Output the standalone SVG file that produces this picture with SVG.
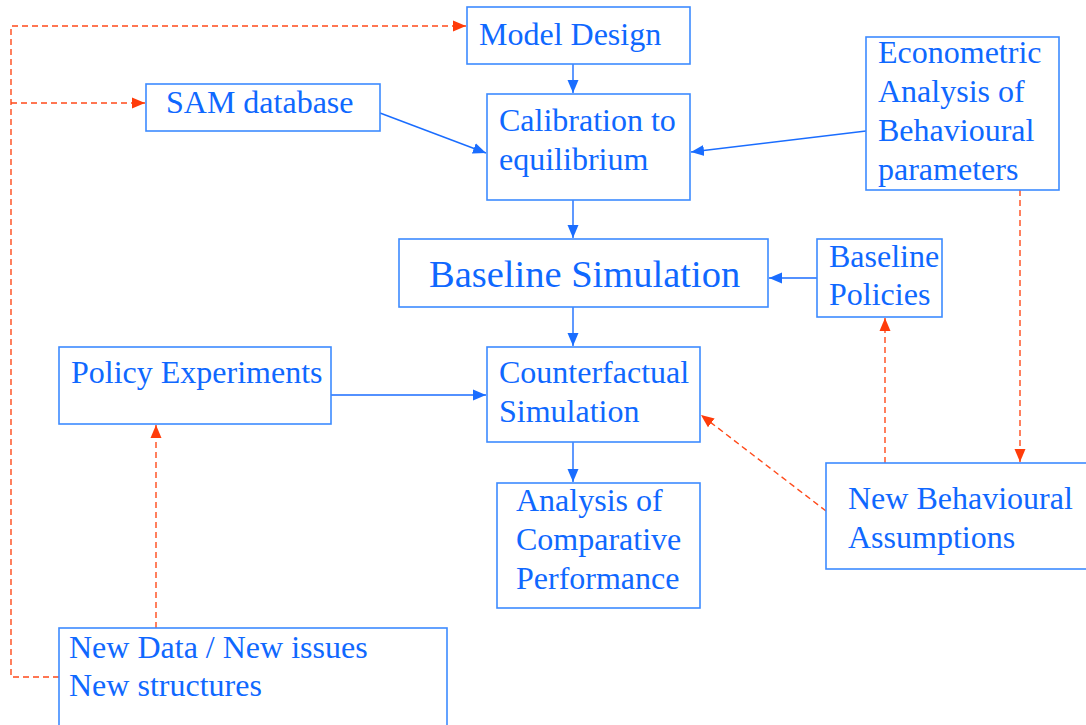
<svg xmlns="http://www.w3.org/2000/svg" width="1086" height="725" viewBox="0 0 1086 725">
<defs>
<style>
.box{fill:#fff;stroke:#3d8bff;stroke-width:1.6}
.t{font-family:"Liberation Serif","Times New Roman",serif;font-size:32px;fill:#0f68ff}
.big{font-size:38.5px}
.c{fill:none;stroke:#1a6dff;stroke-width:1.4}
.d{fill:none;stroke:#ff4a1a;stroke-width:1.4;stroke-dasharray:6 4}
</style>
<marker id="ab" markerUnits="userSpaceOnUse" markerWidth="14" markerHeight="14" viewBox="0 0 14 14" refX="13" refY="7" orient="auto">
<path d="M0,1.5 L13,7 L0,12.5 z" fill="#1a6dff"/>
</marker>
<marker id="ar" markerUnits="userSpaceOnUse" markerWidth="14" markerHeight="14" viewBox="0 0 14 14" refX="13" refY="7" orient="auto">
<path d="M0,1.5 L13,7 L0,12.5 z" fill="#ff3c0a"/>
</marker>
</defs>
<rect width="1086" height="725" fill="#fff"/>
<g id="connectors">
<line class="c" x1="573" y1="64" x2="573" y2="93" marker-end="url(#ab)"/>
<line class="c" x1="380" y1="113" x2="486" y2="153" marker-end="url(#ab)"/>
<line class="c" x1="866" y1="131" x2="691" y2="152" marker-end="url(#ab)"/>
<line class="c" x1="573" y1="200" x2="573" y2="238" marker-end="url(#ab)"/>
<line class="c" x1="817" y1="278" x2="769" y2="278" marker-end="url(#ab)"/>
<line class="c" x1="573" y1="307" x2="573" y2="346" marker-end="url(#ab)"/>
<line class="c" x1="331" y1="395" x2="486" y2="395" marker-end="url(#ab)"/>
<line class="c" x1="573" y1="442" x2="573" y2="482" marker-end="url(#ab)"/>
<line class="d" x1="1020" y1="190" x2="1020" y2="462" marker-end="url(#ar)"/>
<line class="d" x1="885" y1="463" x2="885" y2="318" marker-end="url(#ar)"/>
<line class="d" x1="826" y1="511" x2="701" y2="415" marker-end="url(#ar)"/>
<line class="d" x1="156" y1="628" x2="156" y2="425" marker-end="url(#ar)"/>
<path class="d" d="M59,677 H11 V26 H466" marker-end="url(#ar)"/>
<path class="d" d="M11,103 H145" marker-end="url(#ar)"/>
</g>
<g id="model-design"><rect class="box" x="467" y="7" width="223" height="57"/><text class="t" x="479" y="45">Model Design</text></g>
<g id="sam-database"><rect class="box" x="146" y="84" width="234" height="47"/><text class="t" x="166" y="113">SAM database</text></g>
<g id="calibration"><rect class="box" x="487" y="94" width="203" height="106"/><text class="t" x="499" y="131">Calibration to</text><text class="t" x="499" y="170">equilibrium</text></g>
<g id="econometric"><rect class="box" x="866" y="37" width="193" height="153"/><text class="t" x="878" y="63">Econometric</text><text class="t" x="878" y="102">Analysis of</text><text class="t" x="878" y="141">Behavioural</text><text class="t" x="878" y="180">parameters</text></g>
<g id="baseline-simulation"><rect class="box" x="399" y="239" width="369" height="68"/><text class="t big" x="429" y="287">Baseline Simulation</text></g>
<g id="baseline-policies"><rect class="box" x="817" y="239" width="125" height="78"/><text class="t" x="829" y="267">Baseline</text><text class="t" x="829" y="305">Policies</text></g>
<g id="policy-experiments"><rect class="box" x="59" y="347" width="272" height="77"/><text class="t" x="71" y="383">Policy Experiments</text></g>
<g id="counterfactual"><rect class="box" x="487" y="347" width="213" height="95"/><text class="t" x="499" y="383">Counterfactual</text><text class="t" x="499" y="422">Simulation</text></g>
<g id="analysis"><rect class="box" x="497" y="483" width="203" height="125"/><text class="t" x="516" y="511">Analysis of</text><text class="t" x="516" y="550">Comparative</text><text class="t" x="516" y="589">Performance</text></g>
<g id="new-behavioural"><rect class="box" x="826" y="463" width="262" height="106"/><text class="t" x="848" y="509">New Behavioural</text><text class="t" x="848" y="548">Assumptions</text></g>
<g id="new-data"><rect class="box" x="59" y="628" width="388" height="100"/><text class="t" x="69" y="658">New Data / New issues</text><text class="t" x="69" y="696">New structures</text></g>
</svg>
